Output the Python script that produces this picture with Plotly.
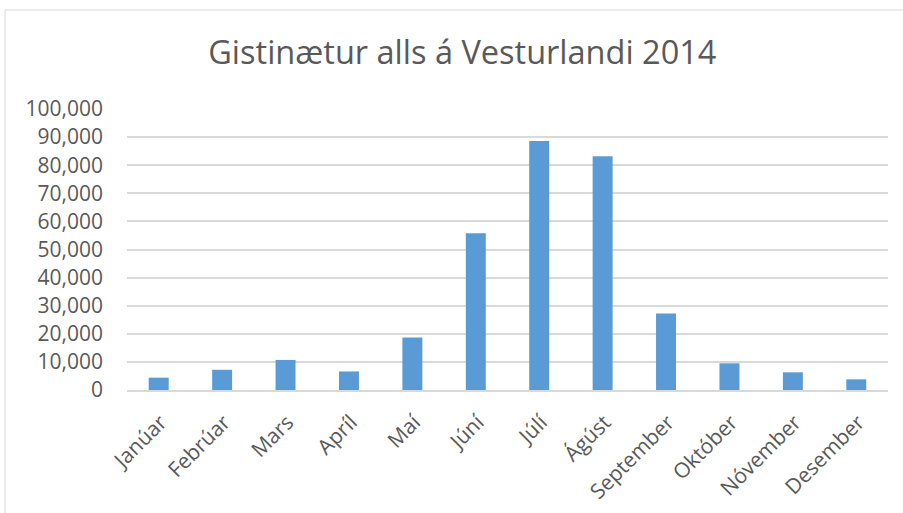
import plotly.graph_objects as go

months = ["Janúar", "Febrúar", "Mars", "Apríl", "Maí", "Júní", "Júlí",
          "Ágúst", "September", "Október", "Nóvember", "Desember"]
gistinaetur = [4400, 7200, 10700, 6600, 18700, 55800, 88600, 83200,
               27200, 9500, 6300, 3800]
y_ticks = [0, 10000, 20000, 30000, 40000, 50000, 60000, 70000, 80000, 90000, 100000]
y_tick_labels = ["0", "10,000", "20,000", "30,000", "40,000", "50,000",
                 "60,000", "70,000", "80,000", "90,000", "100,000"]

FONT = "Open Sans"
fig = go.Figure(go.Bar(x=months, y=gistinaetur, marker_color="#5b9bd5",
                       marker_line_width=0, hoverinfo="skip"))

fig.update_layout(
    width=903, height=513,
    margin=dict(l=127, r=15, t=109, b=123),
    paper_bgcolor="white", plot_bgcolor="white",
    bargap=0.685,
    showlegend=False,
    title=dict(text="Gistinætur alls á Vesturlandi 2014", x=0.512, xanchor="center",
               y=1 - 53 / 513, yanchor="middle",
               font=dict(family=FONT, size=32.5, color="#595959")),
    font=dict(family=FONT, color="#595959"),
    xaxis=dict(tickangle=-45, tickfont=dict(size=21, color="#595959"),
               showline=True, linecolor="#d9d9d9", linewidth=1.5, automargin=False,
               ticks="", showgrid=False, ticklabelshift=2, ticklabelstandoff=10),
    yaxis=dict(range=[0, 100000], tickvals=y_ticks, ticktext=y_tick_labels,
               tickfont=dict(size=21, color="#595959"), automargin=False,
               showgrid=True, gridcolor="#d9d9d9", gridwidth=1.5,
               zeroline=False, showline=False, ticks="", ticklabelstandoff=23),
    shapes=[dict(type="rect", xref="paper", yref="paper",
                 x0=-122 / 761, x1=1.2, y0=-0.8, y1=380 / 281,
                 line=dict(color="#d9d9d9", width=1), fillcolor="rgba(0,0,0,0)")],
)

fig.write_html("out.html", config={"displayModeBar": False},
               post_script="document.body.style.margin='0';document.body.style.overflow='hidden';")
